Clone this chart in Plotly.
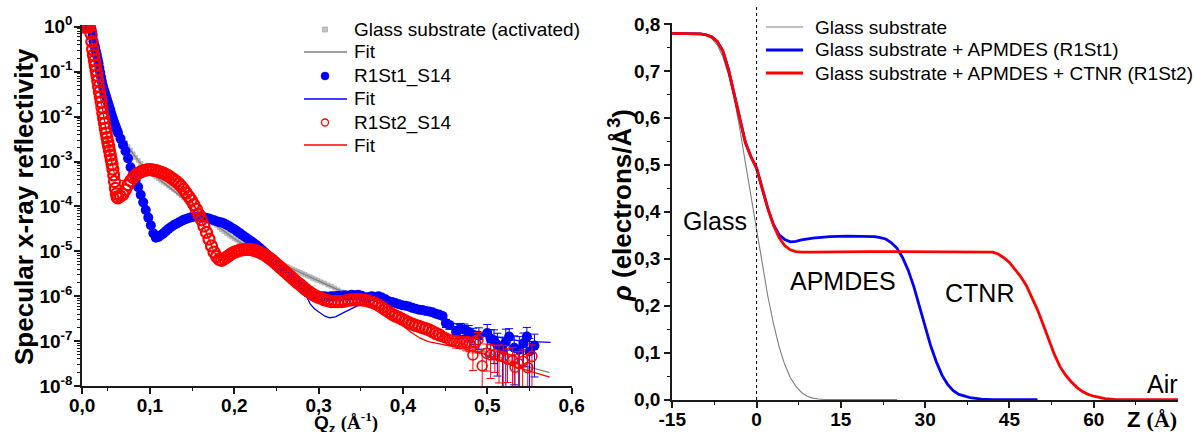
import plotly.graph_objects as go

W, H = 1194, 432
FONT = "Liberation Sans"

# ---------------- Left panel: specular reflectivity (log10 R) -------------
q_steep = [0.020, 0.022, 0.024, 0.026, 0.028, 0.030, 0.031, 0.032, 0.033, 0.034,
           0.035, 0.036, 0.037, 0.038, 0.039, 0.040, 0.041, 0.042, 0.043, 0.044,
           0.045, 0.046, 0.047, 0.048, 0.049, 0.050, 0.051, 0.052, 0.053, 0.054,
           0.055, 0.056, 0.057, 0.058, 0.059, 0.060, 0.061, 0.062]
q_mid = [0.065, 0.068, 0.071, 0.074, 0.077, 0.080, 0.083, 0.086, 0.089, 0.092,
         0.095, 0.098, 0.101, 0.104, 0.107, 0.110, 0.113, 0.116, 0.119, 0.122,
         0.125, 0.128, 0.131, 0.134, 0.137, 0.140, 0.143, 0.146, 0.149, 0.152,
         0.155, 0.158, 0.161, 0.164, 0.167, 0.170, 0.173, 0.176, 0.179, 0.182,
         0.185, 0.188, 0.191, 0.194, 0.197, 0.200, 0.203, 0.206, 0.209, 0.212,
         0.215, 0.218, 0.221, 0.224, 0.227, 0.230, 0.233, 0.236, 0.239, 0.242,
         0.245, 0.248, 0.251, 0.254, 0.257, 0.260, 0.263, 0.266, 0.269, 0.272,
         0.275, 0.278, 0.281, 0.284, 0.287, 0.290, 0.293, 0.296, 0.299]
q_high = [0.303, 0.307, 0.311, 0.315, 0.319, 0.323, 0.327, 0.331, 0.335, 0.339,
          0.343, 0.347, 0.351, 0.355, 0.359, 0.363, 0.367, 0.371, 0.375, 0.379,
          0.383, 0.387, 0.391, 0.395, 0.399, 0.403, 0.407, 0.411, 0.415, 0.419,
          0.423, 0.427, 0.431, 0.435, 0.439, 0.443]

# Glass substrate (activated)
glass_logR_steep = [0.0, 0.0, 0.0, 0.0, 0.0, -0.02, -0.08, -0.20, -0.32, -0.42,
                    -0.50, -0.58, -0.66, -0.75, -0.84, -0.93, -1.02, -1.11, -1.20, -1.28,
                    -1.36, -1.43, -1.50, -1.56, -1.62, -1.68, -1.74, -1.79, -1.84, -1.89,
                    -1.94, -1.99, -2.04, -2.09, -2.14, -2.18, -2.22, -2.26]
glass_logR_mid = [-2.39, -2.49, -2.58, -2.67, -2.75, -2.83, -2.91, -2.98, -3.05, -3.12,
                  -3.17, -3.22, -3.26, -3.30, -3.34, -3.38, -3.42, -3.46, -3.50, -3.54,
                  -3.58, -3.62, -3.66, -3.71, -3.76, -3.81, -3.85, -3.90, -3.95, -3.99,
                  -4.04, -4.09, -4.14, -4.18, -4.23, -4.28, -4.33, -4.38, -4.42, -4.47,
                  -4.52, -4.56, -4.60, -4.64, -4.68, -4.72, -4.75, -4.79, -4.82, -4.85,
                  -4.88, -4.91, -4.94, -4.97, -5.00, -5.03, -5.06, -5.09, -5.12, -5.15,
                  -5.18, -5.21, -5.23, -5.26, -5.29, -5.32, -5.34, -5.37, -5.40, -5.42,
                  -5.45, -5.47, -5.50, -5.52, -5.55, -5.57, -5.60, -5.62, -5.65]
glass_logR_high = [-5.68, -5.71, -5.75, -5.78, -5.82, -5.86, -5.90, -5.93, -5.96, -5.99,
                   -6.02, -6.05, -6.08, -6.11, -6.14, -6.18, -6.22, -6.26, -6.30, -6.34,
                   -6.38, -6.42, -6.46, -6.50, -6.54, -6.57, -6.60, -6.63, -6.66, -6.69,
                   -6.72, -6.75, -6.78, -6.81, -6.84, -6.87]
glass_q_tail = [0.447, 0.455, 0.463, 0.471, 0.479, 0.487, 0.495, 0.503, 0.511, 0.519,
                0.527, 0.535, 0.543, 0.551]
glass_logR_tail = [-6.90, -6.95, -7.00, -7.06, -7.10, -7.16, -7.22, -7.27, -7.33, -7.40,
                   -7.45, -7.50, -7.55, -7.60]
glass_fit_q = [0.020, 0.028, 0.030, 0.033, 0.036, 0.040, 0.045, 0.050, 0.055, 0.060,
               0.065, 0.070, 0.080, 0.090, 0.100, 0.110, 0.120, 0.130, 0.140, 0.150,
               0.160, 0.170, 0.180, 0.190, 0.200, 0.210, 0.220, 0.230, 0.240, 0.250,
               0.260, 0.270, 0.280, 0.290, 0.300, 0.320, 0.340, 0.360, 0.380, 0.400,
               0.420, 0.440, 0.460, 0.480, 0.500, 0.520, 0.540, 0.560, 0.574]
glass_fit_logR = [0.0, 0.0, -0.02, -0.32, -0.58, -0.93, -1.36, -1.68, -1.94, -2.18,
                  -2.39, -2.55, -2.83, -3.07, -3.25, -3.38, -3.53, -3.66, -3.81, -3.96,
                  -4.12, -4.28, -4.44, -4.59, -4.72, -4.84, -4.94, -5.03, -5.13, -5.22,
                  -5.32, -5.40, -5.49, -5.57, -5.66, -5.83, -5.98, -6.15, -6.36, -6.54,
                  -6.69, -6.84, -6.98, -7.12, -7.25, -7.40, -7.53, -7.63, -7.70]

# R1St1_S14
st1_logR_steep = [0.0, 0.0, 0.0, 0.0, 0.0, -0.02, -0.08, -0.20, -0.32, -0.40,
                  -0.47, -0.55, -0.63, -0.72, -0.81, -0.92, -1.02, -1.12, -1.22, -1.31,
                  -1.38, -1.44, -1.50, -1.56, -1.62, -1.68, -1.74, -1.80, -1.86, -1.93,
                  -1.99, -2.05, -2.11, -2.16, -2.21, -2.26, -2.31, -2.36]
st1_logR_mid = [-2.49, -2.63, -2.77, -2.93, -3.13, -3.28, -3.43, -3.57, -3.74, -3.91,
                -4.08, -4.25, -4.42, -4.60, -4.70, -4.68, -4.64, -4.60, -4.55, -4.50,
                -4.46, -4.42, -4.39, -4.36, -4.33, -4.30, -4.28, -4.26, -4.24, -4.23,
                -4.23, -4.23, -4.24, -4.25, -4.26, -4.27, -4.29, -4.31, -4.33, -4.35,
                -4.36, -4.38, -4.41, -4.44, -4.48, -4.51, -4.55, -4.59, -4.63, -4.67,
                -4.71, -4.75, -4.79, -4.83, -4.87, -4.92, -4.97, -5.02, -5.07, -5.12,
                -5.18, -5.24, -5.29, -5.35, -5.41, -5.46, -5.52, -5.58, -5.63, -5.68,
                -5.73, -5.78, -5.83, -5.88, -5.92, -5.95, -5.97, -5.99, -6.00]
st1_logR_high = [-6.00, -6.00, -6.01, -6.00, -6.00, -5.99, -6.00, -5.98, -5.99, -5.97,
                 -5.98, -5.97, -5.99, -6.03, -6.02, -6.00, -6.02, -6.00, -6.03, -6.07,
                 -6.11, -6.13, -6.15, -6.18, -6.20, -6.21, -6.23, -6.26, -6.28, -6.30,
                 -6.31, -6.33, -6.34, -6.36, -6.39, -6.41]
st1_q_err = [0.447, 0.451, 0.455, 0.463, 0.468, 0.473, 0.478, 0.483, 0.490, 0.500,
             0.504, 0.508, 0.512, 0.518, 0.522, 0.526, 0.532, 0.538, 0.543, 0.547,
             0.550, 0.556]
st1_logR_err = [-6.44, -6.60, -6.64, -6.79, -6.72, -6.75, -6.80, -6.86, -6.88, -6.82,
                -6.95, -6.98, -7.08, -7.19, -7.02, -6.90, -7.15, -7.19, -7.05, -6.90,
                -7.23, -7.10]
st1_rel_err = [0.15, 0.20, 0.20, 0.30, 0.30, 0.35, 0.40, 0.40, 0.50, 0.55,
               0.60, 0.70, 0.80, 0.90, 0.93, 0.50, 0.85, 0.95, 0.70, 0.60,
               0.95, 0.80]
st1_fit_q = [0.020, 0.028, 0.030, 0.033, 0.037, 0.041, 0.045, 0.050, 0.060, 0.070,
             0.080, 0.090, 0.100, 0.105, 0.108, 0.112, 0.120, 0.130, 0.140, 0.150,
             0.160, 0.170, 0.180, 0.190, 0.200, 0.210, 0.220, 0.230, 0.240, 0.250,
             0.260, 0.270, 0.278, 0.285, 0.290, 0.295, 0.301, 0.307, 0.313, 0.320,
             0.329, 0.337, 0.345, 0.356, 0.366, 0.380, 0.400, 0.420, 0.440, 0.460,
             0.480, 0.500, 0.520, 0.540, 0.560, 0.575]
st1_fit_logR = [0.0, 0.0, -0.02, -0.32, -0.63, -1.02, -1.38, -1.68, -2.26, -2.72,
                -3.28, -3.80, -4.36, -4.62, -4.70, -4.66, -4.53, -4.40, -4.30, -4.24,
                -4.23, -4.27, -4.33, -4.40, -4.51, -4.64, -4.78, -4.92, -5.09, -5.27,
                -5.46, -5.64, -5.77, -5.98, -6.17, -6.28, -6.37, -6.44, -6.48, -6.46,
                -6.37, -6.30, -6.23, -6.12, -6.07, -6.08, -6.20, -6.33, -6.45, -6.60,
                -6.74, -6.86, -6.94, -7.00, -7.02, -7.03]

# R1St2_S14
st2_logR_steep = [0.0, 0.0, 0.0, 0.0, 0.0, -0.15, -0.33, -0.50, -0.63, -0.75,
                  -0.86, -0.97, -1.08, -1.20, -1.33, -1.45, -1.56, -1.67, -1.79, -1.92,
                  -2.04, -2.15, -2.26, -2.37, -2.47, -2.57, -2.66, -2.76, -2.86, -2.96,
                  -3.06, -3.17, -3.30, -3.45, -3.60, -3.72, -3.79, -3.81]
st2_logR_mid = [-3.77, -3.73, -3.63, -3.52, -3.43, -3.36, -3.30, -3.26, -3.23, -3.21,
                -3.19, -3.18, -3.18, -3.19, -3.20, -3.22, -3.24, -3.26, -3.29, -3.32,
                -3.36, -3.40, -3.44, -3.49, -3.55, -3.62, -3.70, -3.78, -3.86, -3.96,
                -4.06, -4.18, -4.30, -4.44, -4.58, -4.73, -4.88, -5.02, -5.12, -5.18,
                -5.20, -5.17, -5.13, -5.09, -5.05, -5.02, -5.00, -4.98, -4.97, -4.96,
                -4.96, -4.96, -4.97, -4.98, -5.00, -5.02, -5.05, -5.08, -5.12, -5.16,
                -5.20, -5.25, -5.30, -5.35, -5.40, -5.45, -5.50, -5.55, -5.60, -5.65,
                -5.70, -5.74, -5.79, -5.84, -5.88, -5.92, -5.96, -5.99, -6.02]
st2_logR_high = [-6.05, -6.08, -6.10, -6.12, -6.12, -6.12, -6.12, -6.11, -6.09, -6.08,
                 -6.08, -6.08, -6.08, -6.09, -6.11, -6.13, -6.16, -6.20, -6.25, -6.30,
                 -6.35, -6.40, -6.44, -6.47, -6.51, -6.55, -6.59, -6.62, -6.65, -6.67,
                 -6.70, -6.72, -6.75, -6.79, -6.83, -6.86]
st2_q_err = [0.447, 0.451, 0.455, 0.459, 0.463, 0.467, 0.471, 0.475, 0.479, 0.483,
             0.486, 0.489, 0.494, 0.499, 0.504, 0.509, 0.514, 0.519, 0.524, 0.530,
             0.533, 0.537, 0.542, 0.548, 0.553]
st2_logR_err = [-6.90, -6.93, -6.97, -6.98, -7.00, -7.01, -7.02, -7.03, -7.05, -7.31,
                -7.04, -6.97, -7.55, -7.27, -7.31, -7.30, -7.33, -7.35, -7.40, -7.43,
                -7.58, -7.50, -7.45, -7.59, -7.34]
st2_rel_err = [0.20, 0.20, 0.25, 0.25, 0.30, 0.30, 0.30, 0.35, 0.35, 0.55,
               0.40, 0.45, 0.90, 0.60, 0.70, 0.60, 0.75, 0.80, 0.70, 0.95,
               0.90, 0.85, 0.80, 0.95, 0.80]
st2_fit_q = [0.020, 0.028, 0.030, 0.032, 0.034, 0.036, 0.038, 0.040, 0.042, 0.044,
             0.046, 0.048, 0.050, 0.052, 0.054, 0.056, 0.058, 0.060, 0.062, 0.065,
             0.068, 0.072, 0.076, 0.080, 0.085, 0.090, 0.095, 0.100, 0.105, 0.110,
             0.115, 0.120, 0.125, 0.130, 0.135, 0.140, 0.145, 0.150, 0.155, 0.160,
             0.165, 0.170, 0.175, 0.180, 0.185, 0.190, 0.195, 0.200, 0.210, 0.220,
             0.230, 0.240, 0.250, 0.260, 0.270, 0.280, 0.290, 0.300, 0.310, 0.320,
             0.330, 0.340, 0.350, 0.360, 0.370, 0.380, 0.390, 0.400, 0.410, 0.420,
             0.430, 0.440, 0.455, 0.475, 0.495, 0.515, 0.535, 0.555, 0.574]
st2_fit_logR = [0.0, 0.0, -0.15, -0.50, -0.75, -0.97, -1.20, -1.45, -1.67, -1.92,
                -2.15, -2.37, -2.57, -2.76, -2.96, -3.15, -3.28, -3.36, -3.40, -3.42,
                -3.43, -3.43, -3.41, -3.36, -3.27, -3.22, -3.19, -3.18, -3.19, -3.22,
                -3.25, -3.30, -3.36, -3.43, -3.51, -3.62, -3.75, -3.90, -4.06, -4.26,
                -4.49, -4.73, -4.97, -5.14, -5.20, -5.14, -5.08, -5.02, -4.97, -4.97,
                -5.02, -5.13, -5.28, -5.45, -5.62, -5.77, -5.93, -6.08, -6.16, -6.19,
                -6.19, -6.15, -6.12, -6.15, -6.24, -6.36, -6.50, -6.66, -6.81, -6.93,
                -7.01, -7.05, -7.10, -7.18, -7.28, -7.42, -7.58, -7.70, -7.80]

refl_ticks = [1e-8, 1e-7, 1e-6, 1e-5, 1e-4, 1e-3, 1e-2, 1e-1, 1e0]
refl_ticktext = ["10<sup>-8</sup>", "10<sup>-7</sup>", "10<sup>-6</sup>", "10<sup>-5</sup>",
                 "10<sup>-4</sup>", "10<sup>-3</sup>", "10<sup>-2</sup>", "10<sup>-1</sup>",
                 "10<sup>0</sup>"]
q_ticks = [0.0195, 0.1, 0.2, 0.3, 0.4, 0.5, 0.6]
q_ticktext = ["0,0", "0,1", "0,2", "0,3", "0,4", "0,5", "0,6"]

# ---------------- Right panel: electron density profiles ----------------
z_glass = [-15, -12, -10, -9, -8, -7, -6, -5, -4, -3, -2, -1, 0, 1, 2, 3, 4, 5, 6, 7,
           8, 9, 10, 11, 12, 25]
rho_glass = [0.780, 0.780, 0.778, 0.775, 0.769, 0.755, 0.730, 0.692, 0.642, 0.578,
             0.505, 0.432, 0.362, 0.288, 0.220, 0.162, 0.113, 0.075, 0.047, 0.028,
             0.015, 0.007, 0.003, 0.001, 0.0, 0.0]
z_apmdes = [-15, -12, -10, -9, -8, -7, -6, -5, -4, -3, -2, -1, 0, 1, 2, 3, 4, 5, 6, 7,
            8, 10, 13, 16, 19, 21, 22, 23, 24, 25, 26, 27, 28, 29, 30, 31, 32, 33, 34, 35,
            36, 38, 40, 42, 50]
rho_apmdes = [0.780, 0.780, 0.779, 0.777, 0.773, 0.763, 0.742, 0.703, 0.650, 0.595,
              0.548, 0.517, 0.493, 0.450, 0.407, 0.373, 0.351, 0.341, 0.336, 0.337,
              0.340, 0.344, 0.347, 0.348, 0.348, 0.347, 0.345, 0.342, 0.334, 0.322,
              0.302, 0.275, 0.240, 0.196, 0.152, 0.114, 0.080, 0.052, 0.032, 0.019,
              0.011, 0.004, 0.001, 0.0, 0.0]
z_ctnr = [-15, -12, -10, -9, -8, -7, -6, -5, -4, -3, -2, -1, 0, 1, 2, 3, 4, 5, 6, 7,
          8, 10, 15, 20, 25, 30, 35, 40, 42, 43, 44, 45, 46, 47, 48, 49, 50, 51, 52, 53,
          54, 55, 56, 57, 58, 59, 60, 62, 64, 75]
rho_ctnr = [0.780, 0.780, 0.779, 0.777, 0.773, 0.763, 0.742, 0.703, 0.650, 0.595,
            0.548, 0.517, 0.493, 0.450, 0.407, 0.372, 0.345, 0.328, 0.319, 0.315,
            0.314, 0.314, 0.315, 0.315, 0.315, 0.315, 0.315, 0.315, 0.314, 0.310,
            0.302, 0.292, 0.278, 0.262, 0.243, 0.218, 0.191, 0.160, 0.127, 0.096,
            0.070, 0.052, 0.038, 0.026, 0.017, 0.011, 0.007, 0.002, 0.0, 0.0]

z_ticks = [-15, 0, 15, 30, 45, 60]
z_ticktext = ["-15", "0", "15", "30", "45", "60"]
rho_ticks = [0.0, 0.1, 0.2, 0.3, 0.4, 0.5, 0.6, 0.7, 0.8]
rho_ticktext = ["0,0", "0,1", "0,2", "0,3", "0,4", "0,5", "0,6", "0,7", "0,8"]

legend_left = ["Glass substrate (activated)", "Fit", "R1St1_S14", "Fit", "R1St2_S14", "Fit"]
legend_right = ["Glass substrate", "Glass substrate + APMDES (R1St1)",
                "Glass substrate + APMDES + CTNR (R1St2)"]

BLUE, RED, GRAY, LGRAY = "#0000ff", "#ff0000", "#808080", "#c4c4c4"


def r(vals):
    return [10 ** v for v in vals]


def px(x):
    return x / W


def py(y):
    return 1 - y / H


fig = go.Figure()

# ---- left panel traces ----
fig.add_trace(go.Scatter(
    x=q_steep + q_mid + q_high + glass_q_tail,
    y=r(glass_logR_steep + glass_logR_mid + glass_logR_high + glass_logR_tail),
    mode="markers", marker=dict(symbol="square", size=4, color=LGRAY,
                                line=dict(width=0.6, color="#9c9c9c")),
    xaxis="x", yaxis="y", showlegend=False))
fig.add_trace(go.Scatter(x=glass_fit_q, y=r(glass_fit_logR), mode="lines",
                         line=dict(color=GRAY, width=1.3), xaxis="x", yaxis="y",
                         showlegend=False))

fig.add_trace(go.Scatter(
    x=q_steep + q_mid + q_high, y=r(st1_logR_steep + st1_logR_mid + st1_logR_high),
    mode="markers", marker=dict(symbol="circle", size=10, color=BLUE, line=dict(width=0)),
    xaxis="x", yaxis="y", showlegend=False))
st1_R_err = r(st1_logR_err)
fig.add_trace(go.Scatter(
    x=st1_q_err, y=st1_R_err, mode="markers",
    marker=dict(symbol="circle", size=10, color=BLUE, line=dict(width=0)),
    error_y=dict(type="data", symmetric=False,
                 array=[v * e for v, e in zip(st1_R_err, st1_rel_err)],
                 arrayminus=[v * min(e, 0.97) for v, e in zip(st1_R_err, st1_rel_err)],
                 color=BLUE, thickness=1, width=4),
    xaxis="x", yaxis="y", showlegend=False))
fig.add_trace(go.Scatter(x=st1_fit_q, y=r(st1_fit_logR), mode="lines",
                         line=dict(color=BLUE, width=1.3), xaxis="x", yaxis="y",
                         showlegend=False))

fig.add_trace(go.Scatter(
    x=q_steep + q_mid + q_high, y=r(st2_logR_steep + st2_logR_mid + st2_logR_high),
    mode="markers", marker=dict(symbol="circle-open", size=11, color=RED,
                                line=dict(width=2.2, color=RED)),
    xaxis="x", yaxis="y", showlegend=False))
st2_R_err = r(st2_logR_err)
fig.add_trace(go.Scatter(
    x=st2_q_err, y=st2_R_err, mode="markers",
    marker=dict(symbol="circle-open", size=10, color=RED, line=dict(width=1.5, color=RED)),
    error_y=dict(type="data", symmetric=False,
                 array=[v * e for v, e in zip(st2_R_err, st2_rel_err)],
                 arrayminus=[v * min(e, 0.97) for v, e in zip(st2_R_err, st2_rel_err)],
                 color=RED, thickness=1, width=4),
    xaxis="x", yaxis="y", showlegend=False))
fig.add_trace(go.Scatter(x=st2_fit_q, y=r(st2_fit_logR), mode="lines",
                         line=dict(color=RED, width=1.3), xaxis="x", yaxis="y",
                         showlegend=False))

# ---- right panel traces ----
fig.add_trace(go.Scatter(x=z_glass, y=rho_glass, mode="lines",
                         line=dict(color=GRAY, width=1.1), xaxis="x2", yaxis="y2",
                         showlegend=False))
fig.add_trace(go.Scatter(x=z_apmdes, y=rho_apmdes, mode="lines",
                         line=dict(color=BLUE, width=2.8), xaxis="x2", yaxis="y2",
                         showlegend=False))
fig.add_trace(go.Scatter(x=z_ctnr, y=rho_ctnr, mode="lines",
                         line=dict(color=RED, width=2.8), xaxis="x2", yaxis="y2",
                         showlegend=False))

# ---- hand-drawn legends (paper-positioned shapes + text) ----
LX0, LX1, LMX = 304, 347, 325
left_rows = [29.5, 52, 76, 99, 122.5, 145]
RX0, RX1 = 766, 803
right_rows = [27, 50, 73]

shapes = [
    dict(type="rect", xref="paper", yref="paper", x0=px(LMX - 2.5), x1=px(LMX + 2.5),
         y0=py(left_rows[0] + 2.5), y1=py(left_rows[0] - 2.5),
         fillcolor=LGRAY, line=dict(color="#9c9c9c", width=0.6)),
    dict(type="circle", xref="paper", yref="paper", x0=px(LMX - 4), x1=px(LMX + 4),
         y0=py(left_rows[2] + 4), y1=py(left_rows[2] - 4),
         fillcolor=BLUE, line=dict(color=BLUE, width=0.5)),
    dict(type="circle", xref="paper", yref="paper", x0=px(LMX - 3.5), x1=px(LMX + 3.5),
         y0=py(left_rows[4] + 3.5), y1=py(left_rows[4] - 3.5),
         fillcolor="rgba(0,0,0,0)", line=dict(color=RED, width=1.3)),
]
for row, col in [(1, GRAY), (3, BLUE), (5, RED)]:
    shapes.append(dict(type="line", xref="paper", yref="paper", x0=px(LX0), x1=px(LX1),
                       y0=py(left_rows[row]), y1=py(left_rows[row]),
                       line=dict(color=col, width=1.3)))
for row, col, wd in [(0, GRAY, 1.1), (1, BLUE, 2.8), (2, RED, 2.8)]:
    shapes.append(dict(type="line", xref="paper", yref="paper", x0=px(RX0), x1=px(RX1),
                       y0=py(right_rows[row]), y1=py(right_rows[row]),
                       line=dict(color=col, width=wd)))
# dotted marker of the glass surface (Z = 0)
shapes.append(dict(type="line", xref="x2", yref="paper", x0=0, x1=0,
                   y0=py(400), y1=py(7), line=dict(color="black", width=1, dash="dot")))


def ann(text, x, y, size, xanchor="center", yanchor="middle", angle=0, weight="normal",
        family=FONT):
    return dict(text=text, x=px(x), y=py(y), xref="paper", yref="paper",
                showarrow=False, xanchor=xanchor, yanchor=yanchor, textangle=angle,
                font=dict(family=family, size=size, color="black", weight=weight))


annotations = []
for t, yy in zip(legend_left, left_rows):
    annotations.append(ann(t, 352, yy, 19, xanchor="left"))
for t, yy in zip(legend_right, right_rows):
    annotations.append(ann(t, 813, yy, 19, xanchor="left"))
annotations += [
    ann("Glass", 715, 221, 25),
    ann("APMDES", 843, 281, 25),
    ann("CTNR", 979, 293, 25),
    ann("Air", 1162, 384, 25),
    ann("<b>Specular x-ray reflectivity</b>", 24, 207, 26, angle=-90),
    ann("<b><i>ρ</i> (electrons/Å<sup>3</sup>)</b>", 620, 206, 26, angle=-90),
    ann("<b>Q<sub>z</sub> <span style=\"font-family:'Liberation Serif'\">(Å<sup>-1</sup>)</span></b>",
        346, 422, 19),
    ann("<b>Z <span style=\"font-family:'Liberation Serif'\">(Å)</span></b>", 1152, 419, 22),
]

axis_style = dict(showline=True, linecolor="#1a1a1a", linewidth=1.5, ticks="outside",
                  ticklen=6, tickwidth=1.5, tickcolor="#1a1a1a", showgrid=False,
                  zeroline=False, mirror=False, automargin=False,
                  tickfont=dict(family=FONT, size=19, color="black", weight="bold"))
minor_style = dict(ticks="outside", ticklen=3.5, tickwidth=1.2, tickcolor="#1a1a1a",
                   showgrid=False)

fig.update_layout(
    width=W, height=H, margin=dict(l=0, r=0, t=0, b=0, autoexpand=False), autosize=False,
    paper_bgcolor="white", plot_bgcolor="white", showlegend=False,
    xaxis=dict(domain=[px(82), px(572)], range=[0.0194, 0.6005], anchor="y",
               tickvals=q_ticks, ticktext=q_ticktext, ticklabelstandoff=-5,
               minor=dict(tickvals=[0.05, 0.15, 0.25, 0.35, 0.45, 0.55], **minor_style),
               **axis_style),
    yaxis=dict(domain=[py(386), py(25)], type="log", range=[-8, 0.04], anchor="x",
               tickvals=refl_ticks, ticktext=refl_ticktext, ticklabelstandoff=-2,
               minor=dict(tickvals=[m * 10.0 ** k for k in range(-8, 0) for m in range(2, 10)],
                          **minor_style),
               **axis_style),
    xaxis2=dict(domain=[px(672), px(1178)], range=[-15.05, 75], anchor="y2",
                tickvals=z_ticks, ticktext=z_ticktext, ticklabelstandoff=-5,
                minor=dict(tickvals=[-7.5, 7.5, 22.5, 37.5, 52.5, 67.5], **minor_style),
                **axis_style),
    yaxis2=dict(domain=[py(400), py(23)], range=[-0.001, 0.802], anchor="x2",
                tickvals=rho_ticks, ticktext=rho_ticktext,
                minor=dict(tickvals=[0.05, 0.15, 0.25, 0.35, 0.45, 0.55, 0.65, 0.75],
                           **minor_style),
                **axis_style),
    annotations=annotations,
    shapes=shapes,
)

fig.write_html("out.html", config={"displayModeBar": False},
               post_script="document.body.style.margin='0px';")
